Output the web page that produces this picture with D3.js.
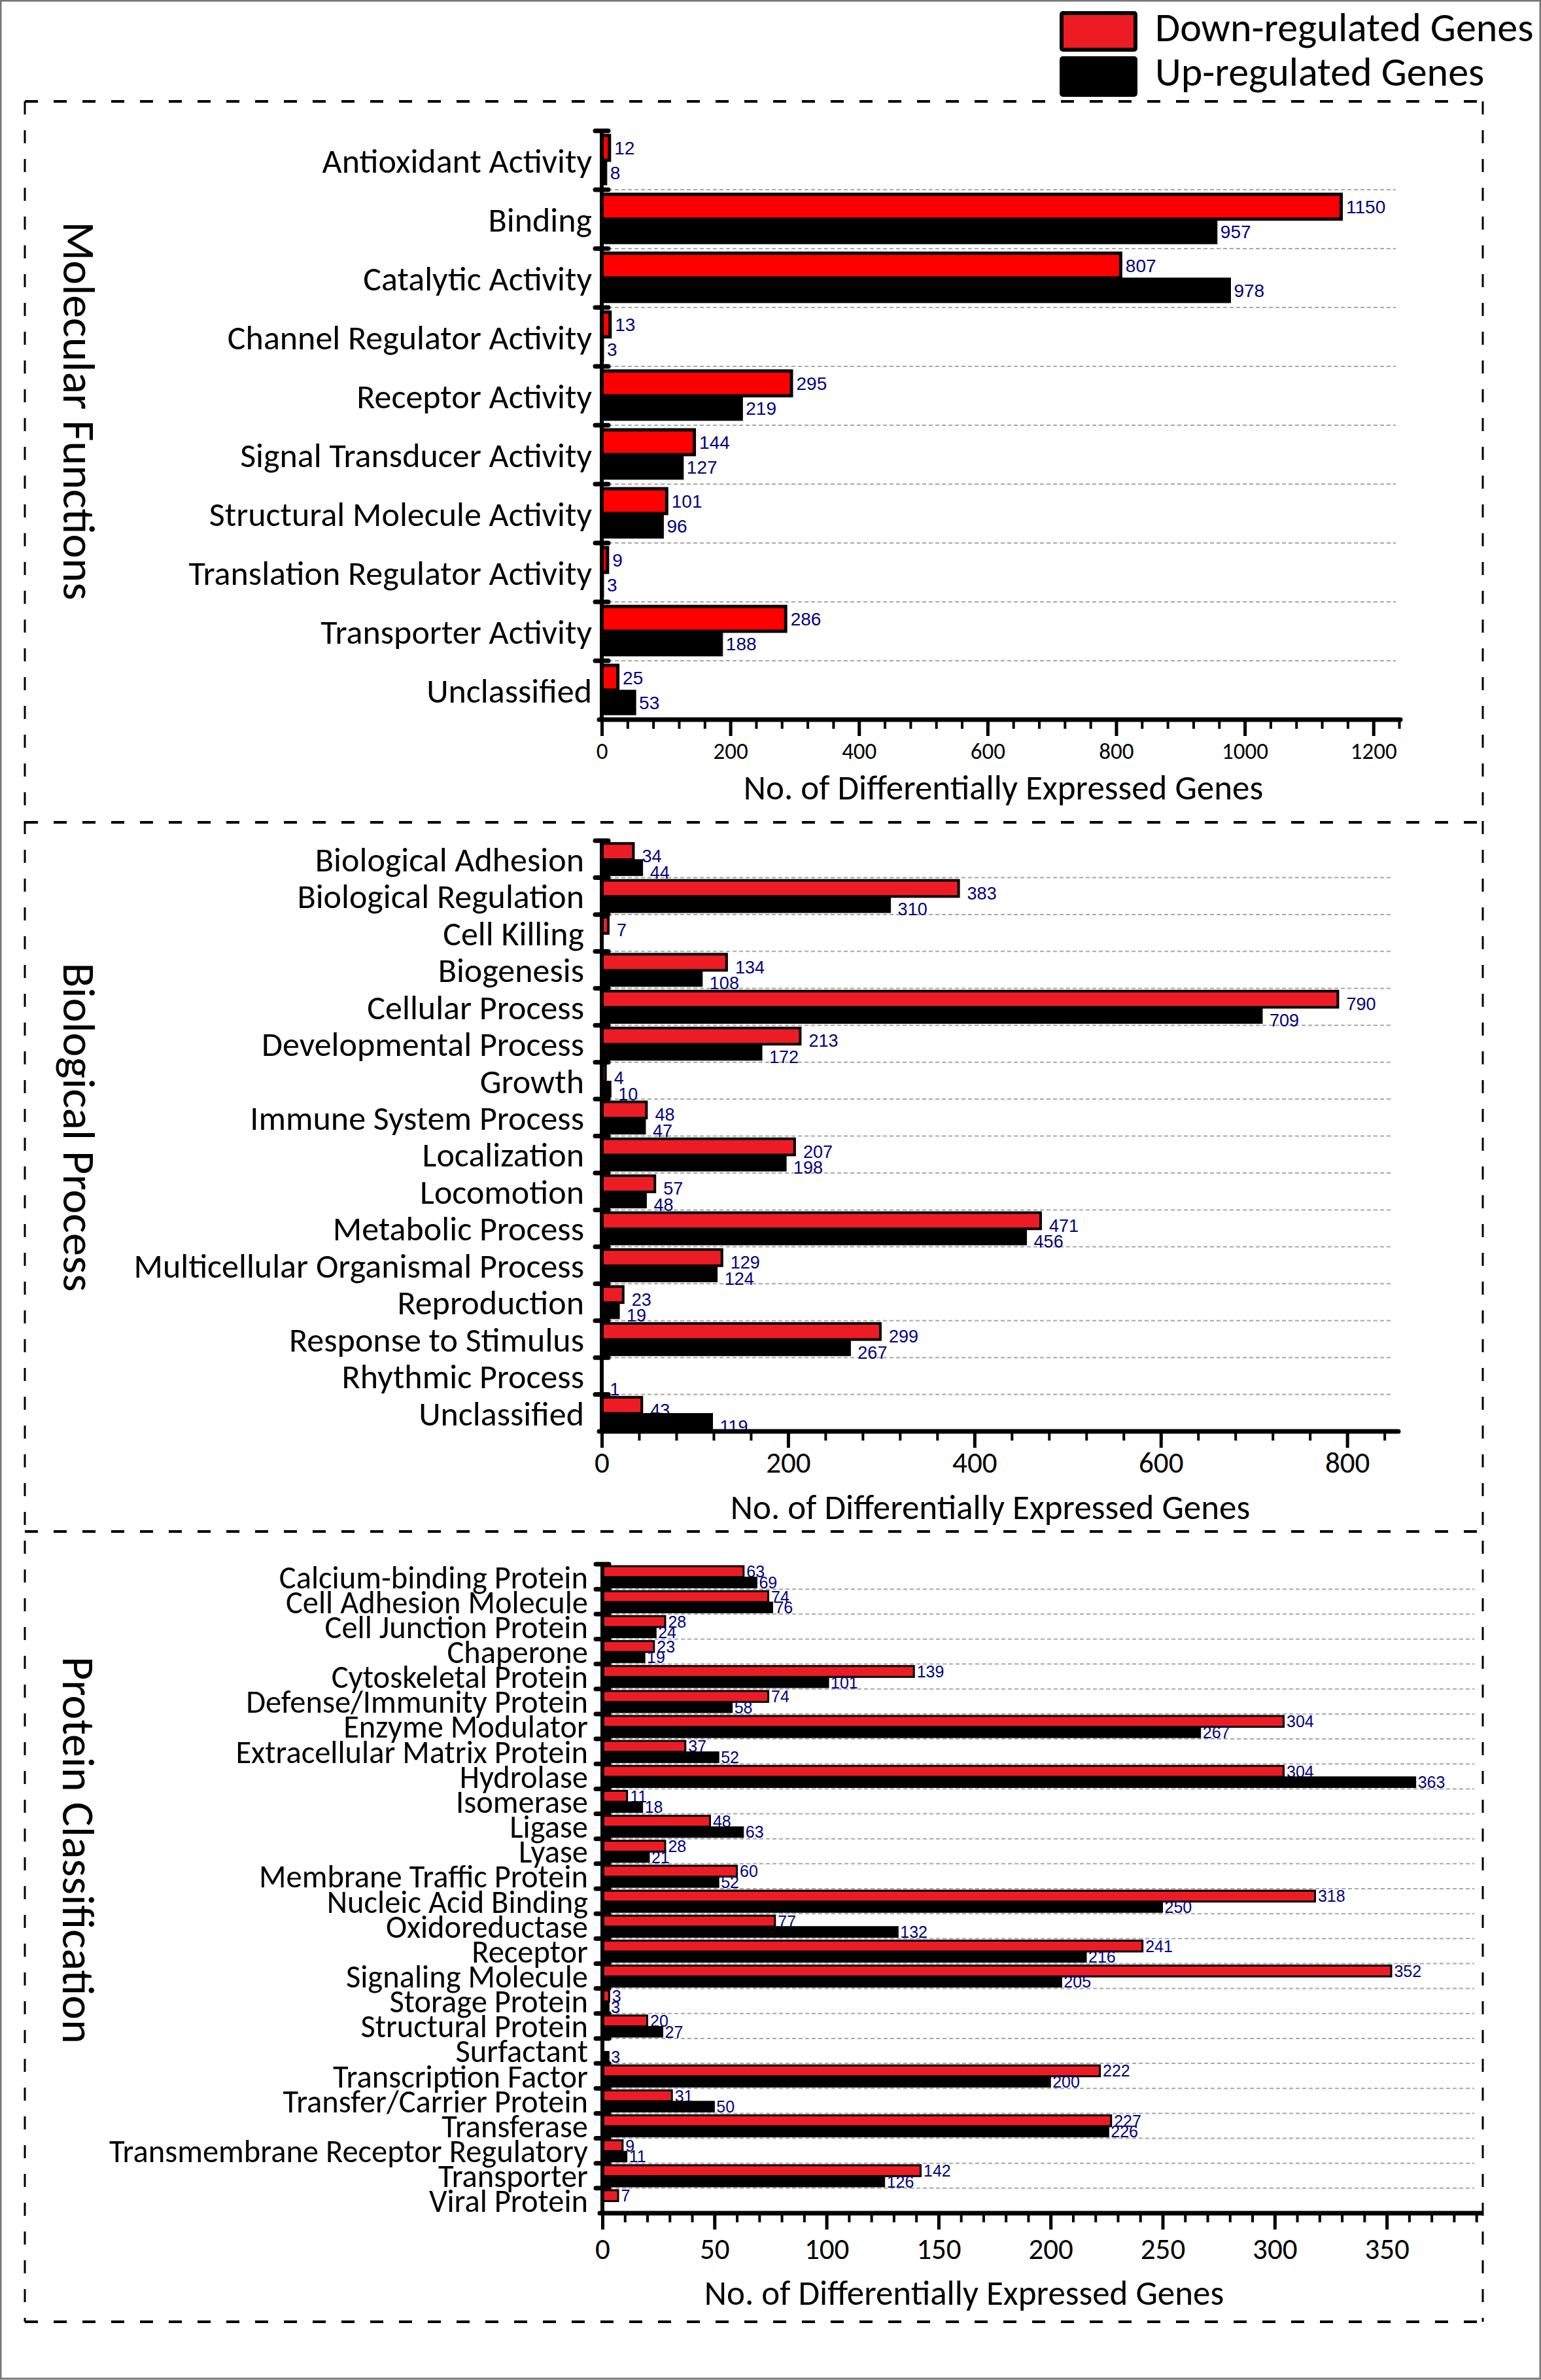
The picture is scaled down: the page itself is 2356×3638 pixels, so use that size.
<!DOCTYPE html>
<html>
<head>
<meta charset="utf-8">
<script src="https://cdn.jsdelivr.net/npm/d3@7"></script>
<style>
  html, body { margin: 0; padding: 0; background: #fff; }
  svg { display: block; }
</style>
</head>
<body>
<script>
// ---------------- DATA ----------------
const seriesNames = ["Down-regulated Genes", "Up-regulated Genes"];

const mfCategories = ["Antioxidant Activity", "Binding", "Catalytic Activity", "Channel Regulator Activity",
  "Receptor Activity", "Signal Transducer Activity", "Structural Molecule Activity",
  "Translation Regulator Activity", "Transporter Activity", "Unclassified"];
const mfDown = [12, 1150, 807, 13, 295, 144, 101, 9, 286, 25];
const mfUp   = [8, 957, 978, 3, 219, 127, 96, 3, 188, 53];
const mfTicks = [0, 200, 400, 600, 800, 1000, 1200];

const bpCategories = ["Biological Adhesion", "Biological Regulation", "Cell Killing", "Biogenesis",
  "Cellular Process", "Developmental Process", "Growth", "Immune System Process", "Localization",
  "Locomotion", "Metabolic Process", "Multicellular Organismal Process", "Reproduction",
  "Response to Stimulus", "Rhythmic Process", "Unclassified"];
const bpDown = [34, 383, 7, 134, 790, 213, 4, 48, 207, 57, 471, 129, 23, 299, null, 43];
const bpUp   = [44, 310, null, 108, 709, 172, 10, 47, 198, 48, 456, 124, 19, 267, 1, 119];
const bpTicks = [0, 200, 400, 600, 800];

const pcCategories = ["Calcium-binding Protein", "Cell Adhesion Molecule", "Cell Junction Protein",
  "Chaperone", "Cytoskeletal Protein", "Defense/Immunity Protein", "Enzyme Modulator",
  "Extracellular Matrix Protein", "Hydrolase", "Isomerase", "Ligase", "Lyase",
  "Membrane Traffic Protein", "Nucleic Acid Binding", "Oxidoreductase", "Receptor",
  "Signaling Molecule", "Storage Protein", "Structural Protein", "Surfactant",
  "Transcription Factor", "Transfer/Carrier Protein", "Transferase",
  "Transmembrane Receptor Regulatory", "Transporter", "Viral Protein"];
const pcDown = [63, 74, 28, 23, 139, 74, 304, 37, 304, 11, 48, 28, 60, 318, 77, 241, 352, 3, 20, null, 222, 31, 227, 9, 142, 7];
const pcUp   = [69, 76, 24, 19, 101, 58, 267, 52, 363, 18, 63, 21, 52, 250, 132, 216, 205, 3, 27, 3, 200, 50, 226, 11, 126, null];
const pcTicks = [0, 50, 100, 150, 200, 250, 300, 350];

const panelTitles = ["Molecular Functions", "Biological Process", "Protein Classification"];
const axisTitle = "No. of Differentially Expressed Genes";

// ---------------- LAYOUT ----------------
const W = 2356, H = 3638;
const FONT = "Carlito, Lato, 'Open Sans', sans-serif";
const VFONT = "'Liberation Sans', Arial, sans-serif";
const VCOLOR = "#000080";

const panels = [
  { cats: mfCategories, down: mfDown, up: mfUp, ticks: mfTicks, title: panelTitles[0],
    xMax: 1242, minorStep: 40, minorMax: 1240, x0: 920, x1: 2141, y0: 200, y1: 1100, gridEnd: 2134,
    subStart: 0.078, subEnd: 0.92, red: "#ff0000", redStroke: 5,
    labelSize: 52, labelGap: 15, tickSize: 35, tickY: 1147, axisTitleX: 1534, axisTitleY: 1222,
    titleX: 122, titleY: 628, valueSize: 28, valueGap: 5, valueDy: 0 },
  { cats: bpCategories, down: bpDown, up: bpUp, ticks: bpTicks, title: panelTitles[1],
    xMax: 855, minorStep: 40, minorMax: 840, x0: 920, x1: 2138, y0: 1285, y1: 2188, gridEnd: 2127,
    subStart: 0.075, subEnd: 0.95, red: "#ed1c24", redStroke: 4,
    labelSize: 52, labelGap: 27, tickSize: 45, tickY: 2235, axisTitleX: 1514, axisTitleY: 2322,
    titleX: 122, titleY: 1723, valueSize: 27, valueGap: 11, valueDy: 7 },
  { cats: pcCategories, down: pcDown, up: pcUp, ticks: pcTicks, title: panelTitles[2],
    xMax: 392, minorStep: 10, minorMax: 390, x0: 921, x1: 2264, y0: 2391, y1: 3383, gridEnd: 2254,
    subStart: 0.08, subEnd: 0.95, red: "#ed1c24", redStroke: 3,
    labelSize: 48.5, labelGap: 22, tickSize: 45, tickY: 3437, axisTitleX: 1474, axisTitleY: 3523,
    titleX: 121, titleY: 2828, valueSize: 25, valueGap: 3, valueDy: 0 }
];

const svg = d3.select("body").append("svg")
  .attr("width", W).attr("height", H)
  .attr("viewBox", `0 0 ${W} ${H}`);

svg.append("rect").attr("x", 0).attr("y", 0).attr("width", W).attr("height", H)
  .attr("fill", "#fff");

// outer image border
svg.append("rect").attr("x", 1).attr("y", 1).attr("width", W - 2).attr("height", H - 3)
  .attr("fill", "none").attr("stroke", "#777").attr("stroke-width", 3);

// dashed panel frames
const frameX0 = 38, frameX1 = 2267;
const frameYs = [155, 1257, 2341, 3549];
const dash = "20,24";
frameYs.forEach(yy => {
  svg.append("line").attr("x1", frameX0).attr("x2", frameX1).attr("y1", yy).attr("y2", yy)
    .attr("stroke", "#000").attr("stroke-width", 4).attr("stroke-dasharray", dash);
});
[frameX0, frameX1].forEach(xx => {
  svg.append("line").attr("x1", xx).attr("x2", xx).attr("y1", frameYs[0]).attr("y2", frameYs[3])
    .attr("stroke", "#000").attr("stroke-width", 3).attr("stroke-dasharray", dash);
});

// legend
const legendColors = ["#ed1c24", "#000000"];
const legend = svg.append("g");
seriesNames.forEach((name, i) => {
  legend.append("rect").attr("x", 1623).attr("y", 20 + i * 69).attr("width", 113).attr("height", 56)
    .attr("fill", legendColors[i]).attr("stroke", "#000").attr("stroke-width", 6).attr("rx", 2);
  legend.append("text").attr("x", 1766).attr("y", 63 + i * 68).text(name)
    .attr("font-family", FONT).attr("font-size", 62).attr("fill", "#000");
});

// panels
panels.forEach(p => {
  const x = d3.scaleLinear().domain([0, p.xMax]).range([p.x0, p.x1]);
  const y = d3.scaleBand().domain(p.cats).range([p.y0, p.y1]).paddingInner(0).paddingOuter(0);
  const bw = y.bandwidth();
  const sub = d3.scaleBand().domain(["down", "up"]).range([bw * p.subStart, bw * p.subEnd]);
  const g = svg.append("g");

  // gridlines at internal boundaries
  g.selectAll("line.grid").data(p.cats.slice(1)).join("line")
    .attr("class", "grid")
    .attr("x1", p.x0).attr("x2", p.gridEnd)
    .attr("y1", d => y(d)).attr("y2", d => y(d))
    .attr("stroke", "#a8a8a8").attr("stroke-width", 2).attr("stroke-dasharray", "6,4");

  const rows = p.cats.map((c, i) => ({ c, down: p.down[i], up: p.up[i] }));

  ["down", "up"].forEach(s => {
    const data = rows.filter(r => r[s] !== null && r[s] !== undefined);
    g.selectAll("rect.bar-" + s).data(data).join("rect")
      .attr("class", "bar-" + s)
      .attr("x", x(0))
      .attr("y", d => y(d.c) + sub(s))
      .attr("width", d => Math.max(0, x(d[s]) - x(0)))
      .attr("height", sub.bandwidth())
      .attr("fill", s === "down" ? p.red : "#000")
      .attr("stroke", "#000")
      .attr("stroke-width", s === "down" ? p.redStroke : 1);
    g.selectAll("text.val-" + s).data(data).join("text")
      .attr("class", "val-" + s)
      .attr("x", d => x(d[s]) + p.valueGap + (s === "down" ? p.redStroke / 2 : 0))
      .attr("y", d => y(d.c) + sub(s) + sub.bandwidth() / 2 + p.valueDy)
      .attr("dy", "0.36em")
      .attr("font-family", VFONT).attr("font-size", p.valueSize).attr("fill", VCOLOR)
      .text(d => d[s]);
  });

  // category labels
  g.selectAll("text.cat").data(p.cats).join("text")
    .attr("class", "cat")
    .attr("x", p.x0 - p.labelGap)
    .attr("y", d => y(d) + bw / 2)
    .attr("dy", "0.36em")
    .attr("text-anchor", "end")
    .attr("font-family", FONT).attr("font-size", p.labelSize).attr("fill", "#000")
    .text(d => d);

  // y axis line
  g.append("line").attr("x1", p.x0).attr("x2", p.x0).attr("y1", p.y0).attr("y2", p.y1)
    .attr("stroke", "#000").attr("stroke-width", 6);
  // y boundary ticks
  const bounds = p.cats.map(c => y(c));
  g.selectAll("line.ytick").data(bounds).join("line")
    .attr("class", "ytick")
    .attr("x1", p.x0 - 10).attr("x2", p.x0 + 10)
    .attr("y1", d => d).attr("y2", d => d)
    .attr("stroke", "#000").attr("stroke-width", 7).attr("stroke-linecap", "round");

  // x axis minor ticks
  const minorVals = d3.range(0, p.minorMax + 0.001, p.minorStep);
  const minorAxis = d3.axisBottom(x).tickValues(minorVals).tickSize(14).tickFormat("");
  const gm = g.append("g").attr("transform", `translate(0,${p.y1})`).call(minorAxis);
  gm.select(".domain").remove();
  gm.selectAll(".tick line").attr("stroke", "#000").attr("stroke-width", 4);

  // x axis major ticks
  const majorAxis = d3.axisBottom(x).tickValues(p.ticks).tickSize(25).tickFormat(d3.format("d"));
  const ga = g.append("g").attr("transform", `translate(0,${p.y1})`).call(majorAxis);
  ga.select(".domain").remove();
  ga.selectAll(".tick line").attr("stroke", "#000").attr("stroke-width", 5);
  ga.selectAll(".tick text")
    .attr("y", p.tickY - p.y1).attr("dy", "0.36em")
    .attr("font-family", FONT).attr("font-size", p.tickSize).attr("fill", "#000");

  // x axis line
  g.append("line").attr("x1", p.x0 - 4).attr("x2", p.x1).attr("y1", p.y1).attr("y2", p.y1)
    .attr("stroke", "#000").attr("stroke-width", 7).attr("stroke-linecap", "round");

  // axis title
  g.append("text").attr("x", p.axisTitleX).attr("y", p.axisTitleY)
    .attr("text-anchor", "middle")
    .attr("font-family", FONT).attr("font-size", 53).attr("fill", "#000")
    .text(axisTitle);

  // panel title (rotated)
  g.append("text")
    .attr("transform", `translate(${p.titleX},${p.titleY}) rotate(90)`)
    .attr("text-anchor", "middle").attr("dy", "0.36em")
    .attr("font-family", FONT).attr("font-size", 70).attr("fill", "#000")
    .text(p.title);
});
</script>
</body>
</html>
